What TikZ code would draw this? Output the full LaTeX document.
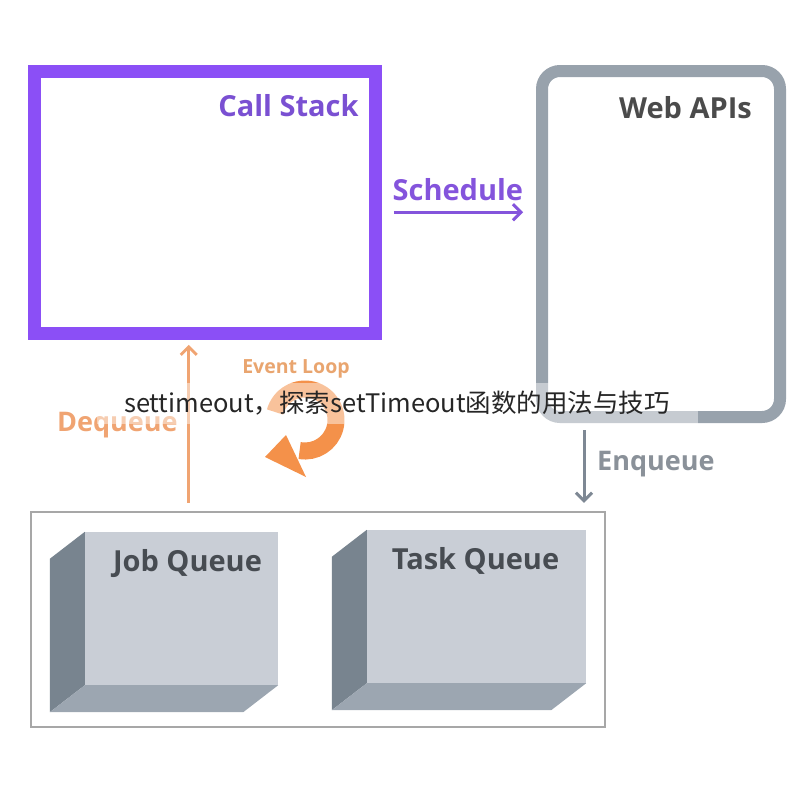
\documentclass[tikz,border=0pt]{standalone}
\usepackage{fontspec}
\setmainfont{Open Sans}
\newfontfamily\cjk{Noto Sans CJK SC}
\usepackage{tikz}
\usetikzlibrary{positioning, arrows.meta}
\definecolor{stackpurple}{HTML}{8B4FF6}
\definecolor{stacktext}{HTML}{7A50D2}
\definecolor{schedpurple}{HTML}{8454DC}
\definecolor{apigray}{HTML}{98A2AC}
\definecolor{apitext}{HTML}{4B4B4B}
\definecolor{enqgray}{HTML}{7E8894}
\definecolor{enqtext}{HTML}{8A9199}
\definecolor{deqorange}{HTML}{F0A472}
\definecolor{looporange}{HTML}{F4914A}
\definecolor{evtext}{HTML}{E9A56F}
\definecolor{boxline}{HTML}{A7A7A7}
\definecolor{frontgray}{HTML}{C9CED6}
\definecolor{sidegray}{HTML}{78848F}
\definecolor{bottomgray}{HTML}{9CA6B1}
\definecolor{qtext}{HTML}{474C52}

\begin{document}
\begin{tikzpicture}[x=1pt, y=-1pt,
	lbl/.style={font=\bfseries\fontsize{27}{30}\selectfont, inner sep=0pt},
	biglbl/.style={lbl, font=\bfseries\fontsize{29}{32}\selectfont},
	stackbox/.style={draw=stackpurple, line width=13pt, minimum width=341pt, minimum height=262pt},
	apibox/.style={draw=apigray, line width=12pt, rounded corners=18pt, minimum width=238pt, minimum height=346pt},
	queuebox/.style={draw=boxline, line width=2.5pt, minimum width=574pt, minimum height=215pt},
	front/.style={fill=frontgray, minimum height=153pt, inner sep=0pt},
	schedarrow/.style={draw=schedpurple, line width=3pt, -{Straight Barb[length=8pt,width=16pt]}},
	enqarrow/.style={draw=enqgray, line width=3pt, -{Straight Barb[length=8pt,width=16pt]}},
	deqarrow/.style={draw=deqorange, line width=3pt, -{Straight Barb[length=8pt,width=16pt]}},
	loopline/.style={draw=looporange, line width=17pt}]
	\useasboundingbox (0,0) rectangle (793,790);

	\node[stackbox] (cs) at (204.75,202.25) {};
	\node[biglbl, text=stacktext, anchor=base east] (csl) at ([shift={(-23,52)}]cs.north east) {Call Stack};
	\node[apibox] (wa) at (661,244) {};
	\node[biglbl, text=apitext, anchor=base east] (wal) at ([shift={(-34,53)}]wa.north east) {Web APIs};
	\node[queuebox] (q) at (318,619.5) {};

	\foreach \x/\y/\w/\s/\t/\n in {181.5/608.5/193/6/Job Queue/jq, 476.5/606.5/219/-1/Task Queue/tq}{
		\node[front, minimum width=\w pt] (\n) at (\x,\y) {};
		\fill[sidegray] (\n.north west) -- ++(-35,27) -- ([shift={(-35,27)}]\n.south west) -- (\n.south west) -- cycle;
		\fill[bottomgray] (\n.south west) -- (\n.south east) -- ++(-35,27) -- ([shift={(-35,27)}]\n.south west) -- cycle;
		\node[biglbl, text=qtext, anchor=base] (\n l) at ([shift={(\s,40)}]\n.north) {\t};
	}

	\coordinate (sch) at ([shift={(12,10)}]cs.east);
	\draw[schedarrow, shorten >=13pt] (sch) -- node[biglbl, text=schedpurple, above=10pt, xshift=-7pt] (schl) {Schedule} (sch -| wa.west);

	\coordinate[below left=7pt and 77pt of wa.south] (enq);
	\draw[enqarrow, shorten >=8pt] (enq) -- (enq |- q.north);
	\node[lbl, text=enqtext, anchor=base west] (enql) at ([shift={(13,40)}]enq) {Enqueue};

	\coordinate[below left=5pt and 16pt of cs.south] (deq);
	\draw[deqarrow, shorten <=8pt] (deq |- q.north) -- (deq);
	\node[lbl, text=deqorange, anchor=base east] (deql) at ([shift={(-11,87)}]deq) {Dequeue};

	\coordinate (ev) at (305,420);
	\node[lbl, font=\bfseries\fontsize{19.5}{22}\selectfont, text=evtext, anchor=base] (evl) at ([shift={(-9,-47)}]ev) {Event Loop};
	\draw[loopline] ([shift={(-165:31)}]ev) arc[start angle=-165, end angle=100, radius=31];
	\fill[looporange] ([shift={(-40,37)}]ev) -- ([shift={(-19,15)}]ev) -- ([shift={(1,57)}]ev) -- cycle;

	\fill[white, opacity=.45] (97,383) rectangle (698,424);
	\node[font=\cjk\fontsize{25.5}{28}\selectfont, text=black!85, inner sep=0pt] (wm) at (397,403) {settimeout，探索setTimeout函数的用法与技巧};
\end{tikzpicture}
\end{document}
